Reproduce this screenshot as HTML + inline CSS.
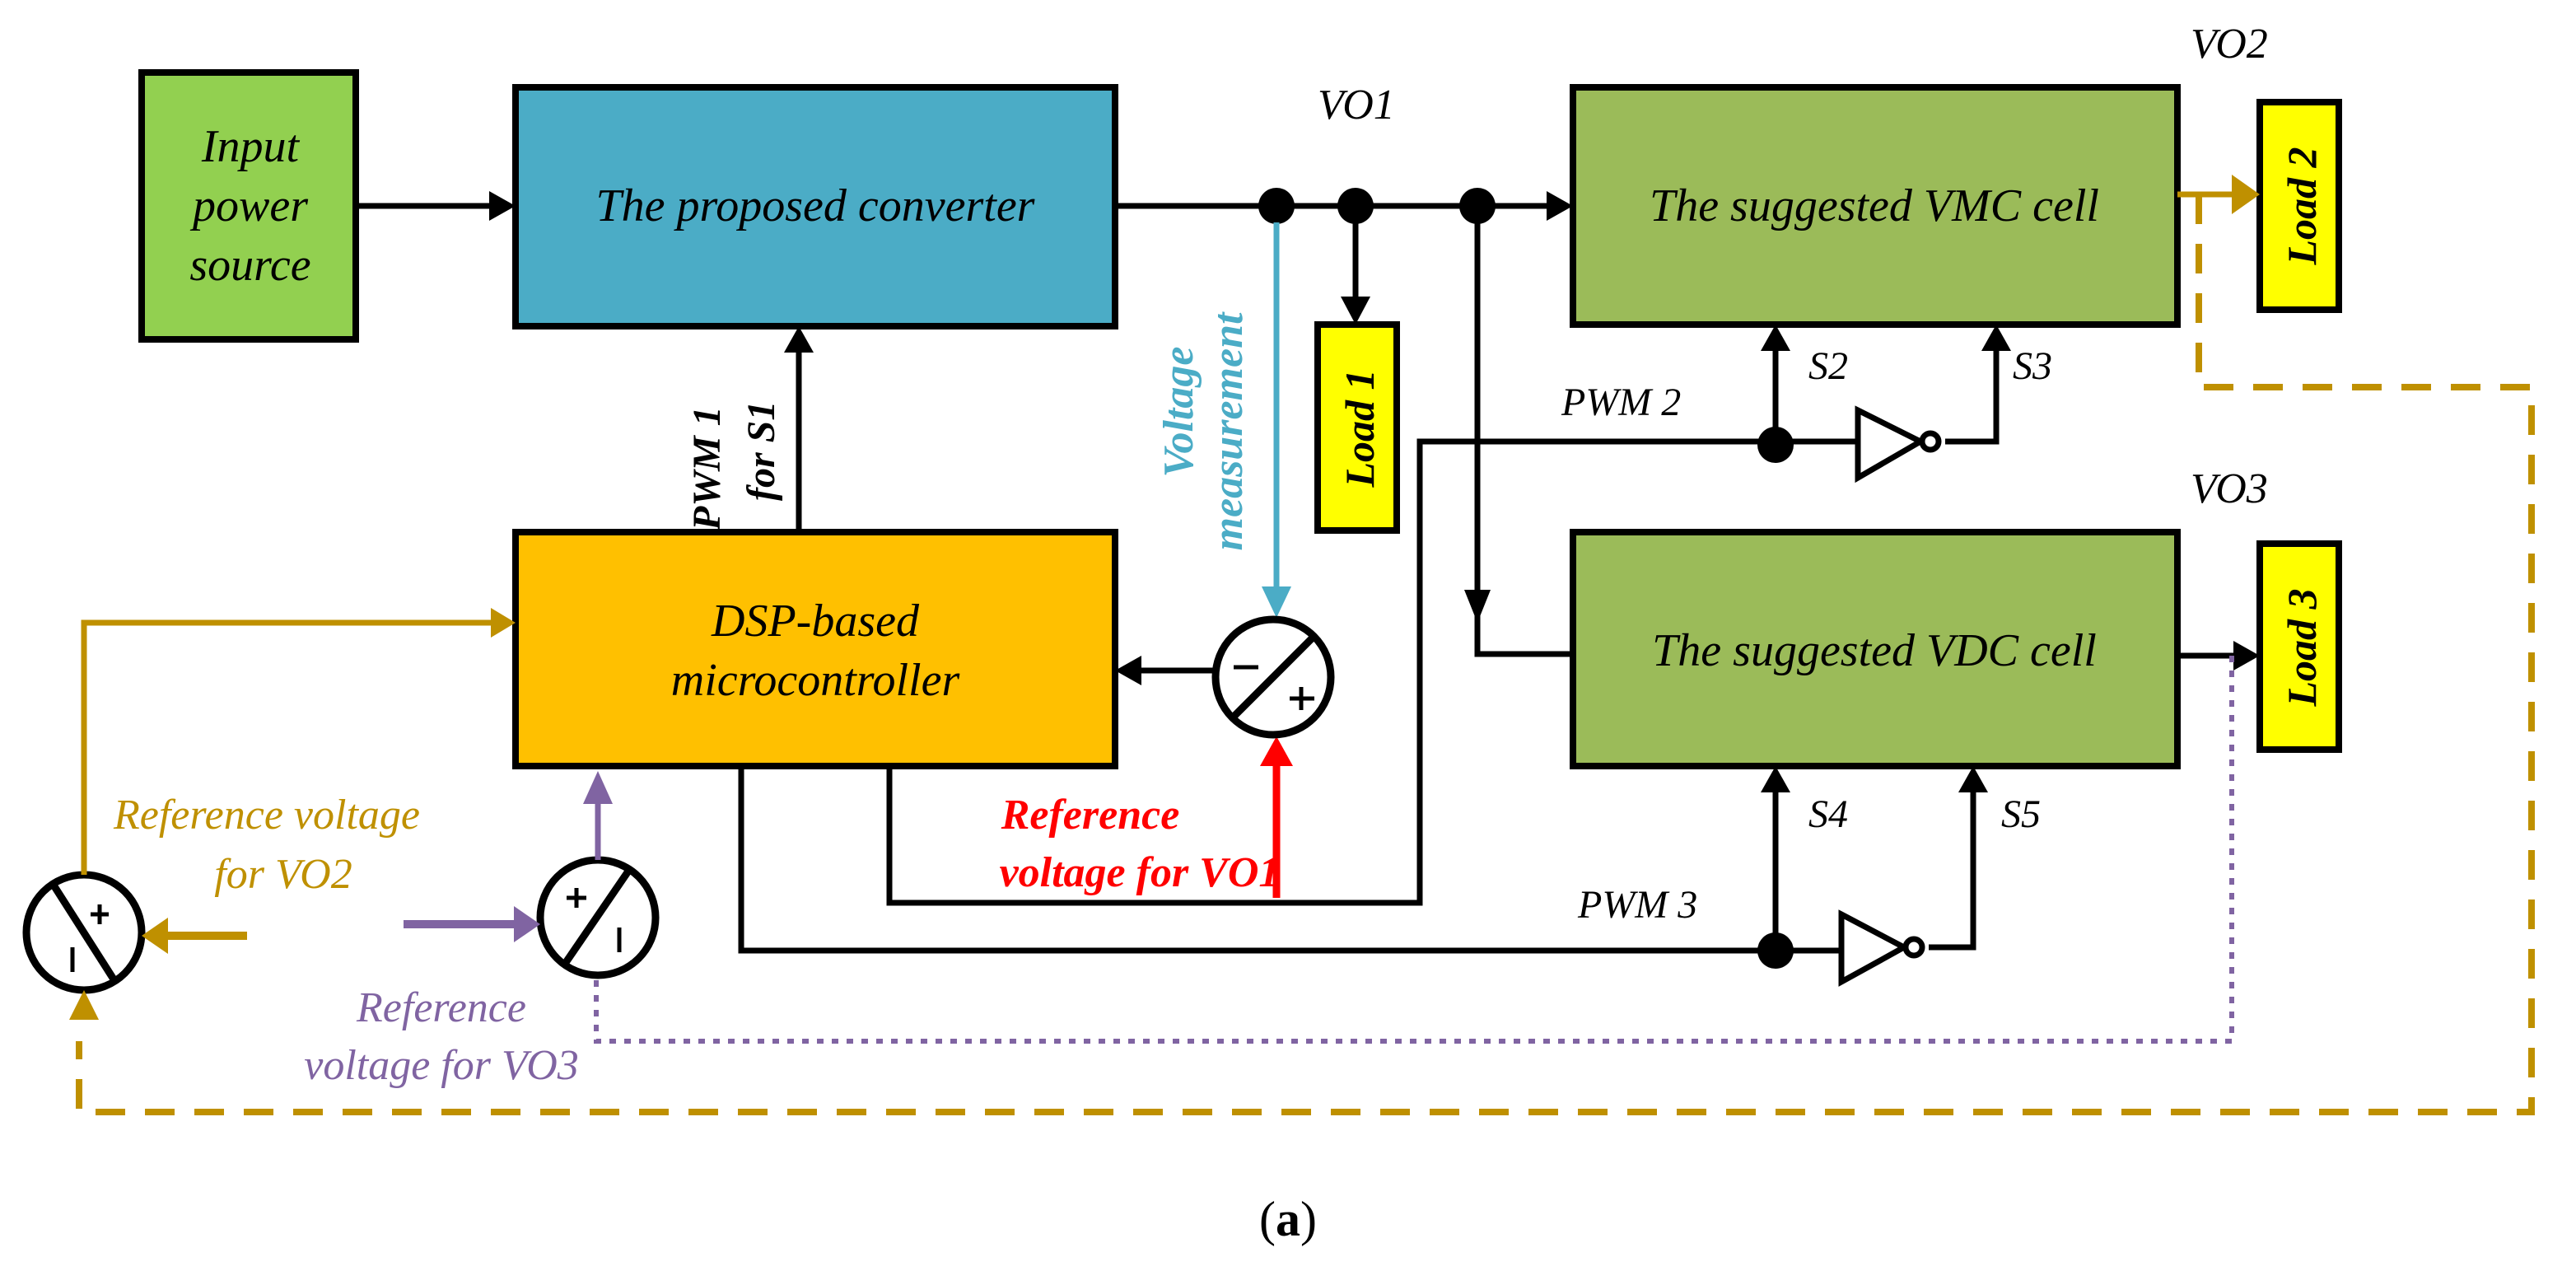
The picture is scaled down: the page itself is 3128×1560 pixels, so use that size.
<!DOCTYPE html>
<html><head><meta charset="utf-8"><style>
html,body{margin:0;padding:0;background:#fff;}
svg{display:block;}
text{font-family:"Liberation Serif",serif;font-style:italic;}
</style></head><body>
<svg width="3128" height="1560" viewBox="0 0 1564 780" xmlns="http://www.w3.org/2000/svg">
<g stroke="#000" stroke-width="4">
<rect x="86" y="44" width="130" height="162" fill="#92d050"/>
<rect x="313" y="53" width="364" height="145" fill="#4bacc6"/>
<rect x="955" y="53" width="367" height="144" fill="#9bbb59"/>
<rect x="955" y="323" width="367" height="142" fill="#9bbb59"/>
<rect x="313" y="323" width="364" height="142" fill="#ffc000"/>
<rect x="800" y="197" width="48" height="125" fill="#ffff00"/>
<rect x="1372" y="62" width="48" height="126" fill="#ffff00"/>
<rect x="1372" y="330" width="48" height="125" fill="#ffff00"/>
</g>
<g font-size="28" fill="#000" text-anchor="middle">
<text x="152" y="98">Input</text><text x="152" y="134">power</text><text x="152" y="170">source</text>
<text x="495" y="134">The proposed converter</text>
<text x="1138" y="134">The suggested VMC cell</text>
<text x="1138" y="404">The suggested VDC cell</text>
<text x="495" y="386">DSP-based</text><text x="495" y="422">microcontroller</text>
</g>
<g font-size="25" font-weight="bold" fill="#000" text-anchor="middle">
<text transform="translate(834,260) rotate(-90)">Load 1</text>
<text transform="translate(1406,125) rotate(-90)">Load 2</text>
<text transform="translate(1406,393) rotate(-90)">Load 3</text>
</g>
<g font-size="24" fill="#000">
<text x="800" y="72" font-size="26">VO1</text>
<text x="1330" y="35" font-size="26">VO2</text>
<text x="1330" y="305" font-size="26">VO3</text>
<text x="1098" y="230">S2</text><text x="1222" y="230">S3</text>
<text x="1098" y="502">S4</text><text x="1215" y="502">S5</text>
<text x="948" y="252">PWM 2</text><text x="958" y="557">PWM 3</text>
<text transform="translate(437,322) rotate(-90)" font-weight="bold">PWM 1</text>
<text transform="translate(470,304) rotate(-90)" font-weight="bold">for S1</text>
</g>
<g font-size="26" font-weight="bold" fill="#4bacc6" text-anchor="middle">
<text transform="translate(724,250) rotate(-90)">Voltage</text>
<text transform="translate(754,262) rotate(-90)">measurement</text>
</g>
<g font-size="26" fill="#ff0000" text-anchor="middle" font-weight="bold">
<text x="662" y="503">Reference</text><text x="692" y="538">voltage for VO1</text>
</g>
<g font-size="26" fill="#bf9000" text-anchor="middle">
<text x="162" y="503">Reference voltage</text><text x="172" y="539">for VO2</text>
</g>
<g font-size="26" fill="#8064a2" text-anchor="middle">
<text x="268" y="620">Reference</text><text x="268" y="655">voltage for VO3</text>
</g>
<text x="782" y="750" font-size="30" style="font-style:normal" text-anchor="middle">(<tspan font-weight="bold">a</tspan>)</text>
<g stroke="#000" stroke-width="3.5" fill="none">
<line x1="216" y1="125" x2="300" y2="125"/>
<line x1="677" y1="125" x2="942" y2="125"/>
<line x1="823" y1="125" x2="823" y2="180"/>
<polyline points="897,125 897,397 955,397"/>
<line x1="485" y1="323" x2="485" y2="212"/>
<line x1="738" y1="407" x2="690" y2="407"/>
<line x1="1078" y1="270" x2="1078" y2="210"/>
<polyline points="540,465 540,548 862,548 862,268 1128,268"/>
<polyline points="1181,268 1212,268 1212,210"/>
<polyline points="450,465 450,577 1118,577"/>
<line x1="1078" y1="577" x2="1078" y2="478"/>
<polyline points="1171,575 1198,575 1198,478"/>
<line x1="1322" y1="398" x2="1358" y2="398"/>
</g>
<g fill="#000">
<path d="M297,116 L313,125 L297,134Z"/>
<path d="M939,116 L955,125 L939,134Z"/>
<path d="M814,180 L823,197 L832,180Z"/>
<path d="M889,358 L897,378 L905,358Z"/>
<path d="M476,214 L485,198 L494,214Z"/>
<path d="M693,398 L677,407 L693,416Z"/>
<path d="M1069,213 L1078,197 L1087,213Z"/>
<path d="M1203,213 L1212,197 L1221,213Z"/>
<path d="M1069,481 L1078,465 L1087,481Z"/>
<path d="M1189,481 L1198,465 L1207,481Z"/>
<path d="M1356,389 L1372,398 L1356,407Z"/>
<circle cx="775" cy="125" r="11"/><circle cx="823" cy="125" r="11"/><circle cx="897" cy="125" r="11"/>
<circle cx="1078" cy="270" r="11"/><circle cx="1078" cy="577" r="11"/>
</g>
<g stroke="#000" stroke-width="3.5" fill="#fff">
<path d="M1128,249 L1166,268 L1128,290Z"/>
<circle cx="1172" cy="268" r="5"/>
<path d="M1118,555 L1156,575 L1118,596Z"/>
<circle cx="1162" cy="575" r="5"/>
</g>
<line x1="775" y1="135" x2="775" y2="360" stroke="#4bacc6" stroke-width="3.5"/>
<path d="M766,356 L775,375 L784,356Z" fill="#4bacc6"/>
<line x1="775" y1="545" x2="775" y2="462" stroke="#ff0000" stroke-width="4.5"/>
<path d="M765,465 L775,447 L785,465Z" fill="#ff0000"/>
<g stroke="#000" stroke-width="4.5" fill="#fff">
<circle cx="773" cy="411" r="35"/>
<circle cx="51" cy="566" r="35"/>
<circle cx="363" cy="557" r="35"/>
</g>
<g stroke="#000" stroke-width="4.5">
<line x1="749" y1="435" x2="797" y2="387"/>
<line x1="33" y1="538" x2="70" y2="596"/>
<line x1="343" y1="585" x2="382" y2="528"/>
</g>
<g stroke="#000" stroke-width="2.5">
<line x1="749" y1="405" x2="764" y2="405"/><line x1="783" y1="424" x2="798" y2="424"/><line x1="790" y1="417" x2="790" y2="431"/>
<line x1="55" y1="555" x2="66" y2="555"/><line x1="60.5" y1="549" x2="60.5" y2="561"/><line x1="44" y1="575" x2="44" y2="590"/>
<line x1="344" y1="545" x2="356" y2="545"/><line x1="350" y1="539" x2="350" y2="551"/><line x1="376" y1="563" x2="376" y2="578"/>
</g>
<g stroke="#bf9000" stroke-width="3.5" fill="none">
<polyline points="51,531 51,378 300,378"/>
<line x1="1322" y1="118" x2="1356" y2="118"/>
<line x1="150" y1="568" x2="100" y2="568" stroke-width="5"/>
<polyline points="1335,118 1335,235 1537,235 1537,675 48,675 48,632" stroke-dasharray="18,12" stroke-width="4"/>
</g>
<g fill="#bf9000">
<path d="M298,369 L313,378 L298,387Z"/>
<path d="M1355,106 L1372,118 L1355,130Z"/>
<path d="M102,557 L86,568 L102,579Z"/>
<path d="M42,619 L51,601 L60,619Z"/>
</g>
<g stroke="#8064a2" fill="none">
<line x1="363" y1="522" x2="363" y2="485" stroke-width="3.5"/>
<line x1="245" y1="561" x2="315" y2="561" stroke-width="5"/>
<polyline points="1355,398 1355,632 362,632 362,594" stroke-width="3" stroke-dasharray="4,5"/>
</g>
<g fill="#8064a2">
<path d="M354,488 L363,468 L372,488Z"/>
<path d="M312,550 L328,561 L312,572Z"/>
</g>
</svg>
</body></html>
